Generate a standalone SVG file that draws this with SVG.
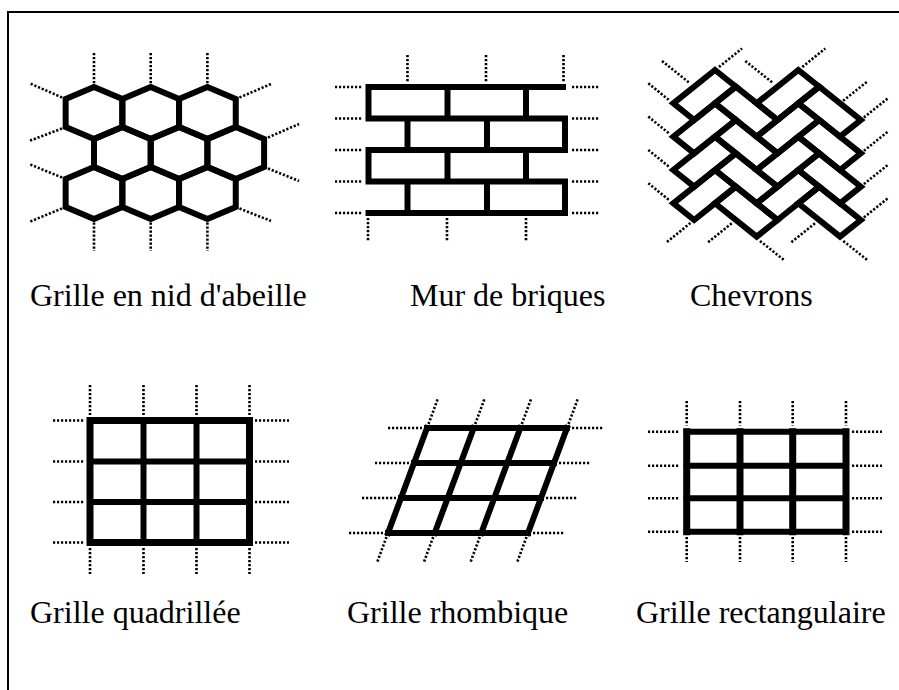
<svg xmlns="http://www.w3.org/2000/svg" width="899" height="690" viewBox="0 0 899 690">
<style>
.s{fill:none;stroke:#000;stroke-width:6;stroke-linejoin:miter;stroke-linecap:square}
.d{fill:none;stroke:#000;stroke-width:2.6;stroke-dasharray:2.2 1.8}
.t{font-family:"Liberation Serif","Times New Roman",serif;font-size:32px;fill:#000}
</style>
<rect x="8" y="12" width="900" height="690" fill="#fff" stroke="#000" stroke-width="2"/>

<g id="honeycomb">
<g class="s">
<polygon points="94,87 122.35,99 122.35,127 94,139 65.65,127 65.65,99"/>
<polygon points="150.7,87 179.05,99 179.05,127 150.7,139 122.35,127 122.35,99"/>
<polygon points="207.4,87 235.75,99 235.75,127 207.4,139 179.05,127 179.05,99"/>
<polygon points="122.35,127 150.7,139 150.7,167 122.35,179 94,167 94,139"/>
<polygon points="179.05,127 207.4,139 207.4,167 179.05,179 150.7,167 150.7,139"/>
<polygon points="235.75,127 264.1,139 264.1,167 235.75,179 207.4,167 207.4,139"/>
<polygon points="94,167 122.35,179 122.35,207 94,219 65.65,207 65.65,179"/>
<polygon points="150.7,167 179.05,179 179.05,207 150.7,219 122.35,207 122.35,179"/>
<polygon points="207.4,167 235.75,179 235.75,207 207.4,219 179.05,207 179.05,179"/>
</g>
<path class="d" d="M94 53V83.5M150.7 53V83.5M207.4 53V83.5M94 222.5V251M150.7 222.5V251M207.4 222.5V251M62 97.5L29 83M62 128.5L29 141M62 177.5L29 164M62 208.5L29 222M239.5 97.5L271 84M268 137.5L299 124M268 168.5L299 181M239.5 208.5L271 221"/>
</g>

<g id="brick-wall">
<path class="s" d="M368.5 87H563M368.5 118.5H565M368.5 150H565M368.5 181.5H565M368.5 213H565M368.5 87V118.5M447.5 87V118.5M526 87V118.5M407.5 118.5V150M487 118.5V150M565 118.5V150M368.5 150V181.5M447.5 150V181.5M526 150V181.5M407.5 181.5V213M487 181.5V213M565 181.5V213"/>
<path class="d" d="M335 87H362M335 118.5H362M335 150H362M335 181.5H362M335 213H362M572 87H599M572 118.5H599M572 150H599M572 181.5H599M572 213H599M407.5 55V82M486 55V82M563.5 55V82M368 218V242M447 218V242M526 218V242"/>
</g>

<g id="chevrons">
<g class="s">
<polygon points="715,70 673.33,103.33 694.17,120 735.83,86.67"/>
<polygon points="735.83,86.67 715,103.33 756.67,136.67 777.5,120"/>
<polygon points="715,103.33 673.33,136.67 694.17,153.33 735.83,120"/>
<polygon points="735.83,120 715,136.67 756.67,170 777.5,153.33"/>
<polygon points="715,136.67 673.33,170 694.17,186.67 735.83,153.33"/>
<polygon points="735.83,153.33 715,170 756.67,203.33 777.5,186.67"/>
<polygon points="715,170 673.33,203.33 694.17,220 735.83,186.67"/>
<polygon points="735.83,186.67 715,203.33 756.67,236.67 777.5,220"/>
<polygon points="798.33,70 756.67,103.33 777.5,120 819.17,86.67"/>
<polygon points="819.17,86.67 798.33,103.33 840,136.67 860.83,120"/>
<polygon points="798.33,103.33 756.67,136.67 777.5,153.33 819.17,120"/>
<polygon points="819.17,120 798.33,136.67 840,170 860.83,153.33"/>
<polygon points="798.33,136.67 756.67,170 777.5,186.67 819.17,153.33"/>
<polygon points="819.17,153.33 798.33,170 840,203.33 860.83,186.67"/>
<polygon points="798.33,170 756.67,203.33 777.5,220 819.17,186.67"/>
<polygon points="819.17,186.67 798.33,203.33 840,236.67 860.83,220"/>
</g>
<path class="d" d="M662 61L689 82.5M719 67L742 48.5M745.3 61L772.3 82.5M802.3 67L825.3 48.5M648.3 83.3L669.5 100.5M648.3 116.6L669.5 133.8M648.3 149.9L669.5 167.1M648.3 183.2L669.5 200.4M667 242L691 222.5M731.7 223.3L707.7 242.5M815 223.3L791 242.5M760 241L784 260M843.3 241L867.3 260M843.1 100.8L867.1 81.7M863.9 117.5L887.9 98.3M863.9 150.8L887.9 131.6M863.9 184.1L887.9 164.9M863.9 217.4L887.9 198.2"/>
</g>

<g id="grille-quadrillee">
<rect x="90" y="420.5" width="159.5" height="122" fill="none" stroke="#000" stroke-width="7"/>
<path class="s" d="M143.5 420.5V542.5M196.5 420.5V542.5M90 461.5H249.5M90 502H249.5"/>
<path class="d" d="M90 385V415M143.5 385V415M196.5 385V415M249.5 385V415M90 548V574M143.5 548V574M196.5 548V574M249.5 548V574M53 420.5H85M53 461.5H85M53 502H85M53 542.5H85M255 420.5H289M255 461.5H289M255 502H289M255 542.5H289"/>
</g>

<g id="grille-rhombique">
<path class="s" d="M427 428H567M414 463H554M401 498H541M388 533H528M427 428L388 533M473.7 428L434.7 533M520.3 428L481.3 533M567 428L528 533"/>
<path class="d" d="M428.5 424L438.1 398M475.2 424L484.8 398M521.8 424L531.4 398M568.5 424L578.1 398M386.5 537L376.9 563M433.2 537L423.6 563M479.8 537L470.2 563M526.5 537L516.9 563M388 428H422M375 463H409M362 498H396M349 533H383M572 428H604M559 463H591M546 498H578M533 533H565"/>
</g>

<g id="grille-rectangulaire">
<path class="s" d="M686.7 431.7H846M686.7 465.7H846M686.7 498.3H846M686.7 531.7H846"/>
<path class="s" style="stroke-width:7" d="M686.7 431.7V531.7M740 431.7V531.7M792.7 431.7V531.7M846 431.7V531.7"/>
<path class="d" d="M686.7 401V425.5M740 401V425.5M792.7 401V425.5M846 401V425.5M686.7 537V562M740 537V562M792.7 537V562M846 537V562M648 431.7H680M648 465.7H680M648 498.3H680M648 531.7H680M852 431.7H882M852 465.7H882M852 498.3H882M852 531.7H882"/>
</g>

<g id="labels" class="t">
<text x="30" y="306">Grille en nid d'abeille</text>
<text x="410" y="306">Mur de briques</text>
<text x="690" y="306">Chevrons</text>
<text x="30" y="623">Grille quadrillée</text>
<text x="347" y="623">Grille rhombique</text>
<text x="636" y="623">Grille rectangulaire</text>
</g>
</svg>
